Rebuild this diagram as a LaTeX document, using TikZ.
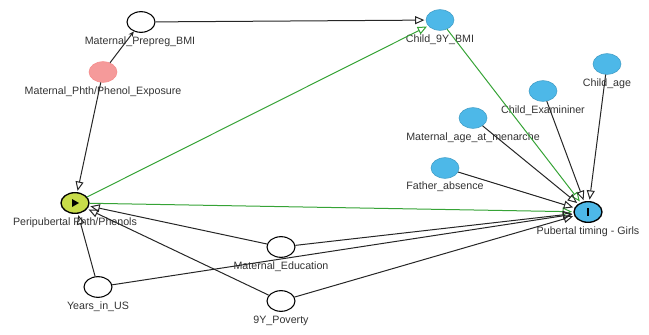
\documentclass[tikz,border=0pt]{standalone}
\usepackage{fontspec}
\setmainfont{Liberation Sans}
\usetikzlibrary{arrows.meta,shapes.geometric}
\definecolor{nodeblue}{HTML}{4DB8E8}
\definecolor{nodepink}{HTML}{F59A9A}
\definecolor{nodeyel}{HTML}{C8DC4A}
\definecolor{edgegreen}{HTML}{36A336}
\definecolor{txt}{HTML}{333333}
\begin{document}
\begin{tikzpicture}[x=0.75pt,y=-0.75pt,
  var/.style={ellipse,minimum width=21pt,minimum height=15.5pt,inner sep=0pt,line width=0.8pt},
  plainvar/.style={var,draw=black,fill=white},
  bluevar/.style={var,draw=nodeblue!85!black,fill=nodeblue,line width=0.4pt},
  pinkvar/.style={var,draw=nodepink!90!red,fill=nodepink,line width=0.4pt},
  lab/.style={font=\fontsize{8}{9}\selectfont,text=txt,inner sep=0pt},
  edge/.style={draw=black!85,line width=0.75pt,-{Triangle[open,length=7pt,width=6pt]},shorten >=1pt},
  gedge/.style={draw=edgegreen,line width=0.75pt,-{Triangle[open,length=7pt,width=6pt]},shorten >=1pt}]
\useasboundingbox (0,0) rectangle (649,335);
% nodes
\node[plainvar] (mpb) at (141,22) {};
\node[lab] (mpbl) at (140,42) {Maternal\_Prepreg\_BMI};
\node[pinkvar] (mpe) at (103,72) {};
\node[lab] (mpel) at (103,92) {Maternal\_Phth/Phenol\_Exposure};
\node[bluevar] (c9) at (440,20) {};
\node[lab] (c9l) at (440,40) {Child\_9Y\_BMI};
\node[bluevar] (cage) at (607,64) {};
\node[lab] (cagel) at (607,84) {Child\_age};
\node[bluevar] (cex) at (543,91) {};
\node[lab] (cexl) at (543,111) {Child\_Examininer};
\node[bluevar] (mam) at (473,118) {};
\node[lab] (maml) at (473,138) {Maternal\_age\_at\_menarche};
\node[bluevar] (fa) at (445,168) {};
\node[lab] (fal) at (445,187) {Father\_absence};
\node[var,draw=black,fill=nodeblue,line width=1pt] (pt) at (588,212) {};
\node[lab] (ptl) at (588,232) {Pubertal timing - Girls};
\draw[line width=1.3pt] (588,208) -- (588,216);
\node[var,draw=black,fill=nodeyel,line width=1pt] (pp) at (75,203) {};
\fill (72,199) -- (79,203) -- (72,207) -- cycle;
\node[lab] (ppl) at (75,223) {Peripubertal Phth/Phenols};
\node[plainvar] (me) at (281,247) {};
\node[lab] (mel) at (281,267) {Maternal\_Education};
\node[plainvar] (yus) at (98,287) {};
\node[lab] (yusl) at (98,307) {Years\_in\_US};
\node[plainvar] (pov) at (281,301) {};
\node[lab] (povl) at (281,321) {9Y\_Poverty};
% edges
\draw[edge] (mpb) -- (c9);
\draw[draw=black!85,line width=0.75pt,-{Stealth[length=4pt,width=3.5pt]}] (mpe) -- (mpb);
\draw[edge] (mpe) -- (pp);
\draw[gedge] (pp) -- (c9);
\draw[gedge] (pp) -- (pt);
\draw[gedge] (c9) -- (pt);
\draw[edge] (cage) -- (pt);
\draw[edge] (cex) -- (pt);
\draw[edge] (mam) -- (pt);
\draw[edge] (fa) -- (pt);
\draw[edge] (me) -- (pp);
\draw[edge] (me) -- (pt);
\draw[edge] (yus) -- (pp);
\draw[edge] (yus) -- (pt);
\draw[edge] (pov) -- (pp);
\draw[edge] (pov) -- (pt);
\end{tikzpicture}
\end{document}
